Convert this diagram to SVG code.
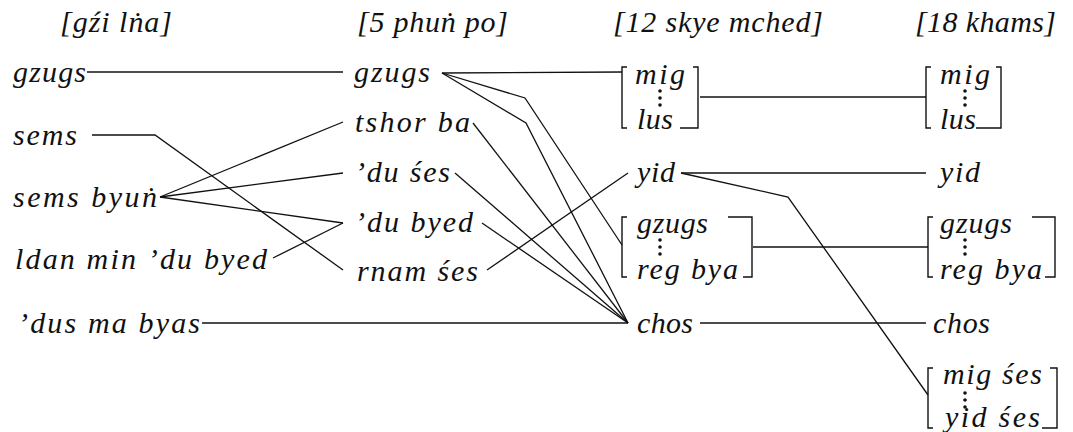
<svg xmlns="http://www.w3.org/2000/svg" width="1073" height="432" viewBox="0 0 1073 432">
  <style>
    text { font-family: "Liberation Serif", "DejaVu Serif", serif; font-style: italic; font-size: 30px; fill: #111; }
    .ln { fill: none; stroke: #111; stroke-width: 1.3; stroke-linejoin: miter; }
    .br { fill: none; stroke: #111; stroke-width: 1.4; }
    .dot { fill: #111; }
  </style>
  <defs>
    <!-- vertical ellipsis used inside the bracketed ranges -->
    <g id="vdots">
      <circle class="dot" cx="0" cy="0" r="1.8"/>
      <circle class="dot" cx="0" cy="7" r="1.8"/>
      <circle class="dot" cx="0" cy="14" r="1.8"/>
    </g>
  </defs>

  <!-- column headings -->
  <g id="headings">
    <text x="60" y="32" textLength="112" lengthAdjust="spacing">[gźi lṅa]</text>
    <text x="357" y="32" textLength="151" lengthAdjust="spacing">[5 phuṅ po]</text>
    <text x="613" y="32" textLength="210" lengthAdjust="spacing">[12 skye mched]</text>
    <text x="915" y="32" textLength="141" lengthAdjust="spacing">[18 khams]</text>
  </g>

  <!-- connectors -->
  <g id="connectors">
    <polyline class="ln" points="87,72 343,72"/>
    <polyline class="ln" points="92,135 155,135 343,270"/>
    <polyline class="ln" points="160,197 343,122"/>
    <polyline class="ln" points="160,197 343,173"/>
    <polyline class="ln" points="160,197 343,223"/>
    <polyline class="ln" points="273,258 343,223"/>
    <polyline class="ln" points="202,323 628,323"/>
    <polyline class="ln" points="442,73 622,72"/>
    <polyline class="ln" points="442,73 525,98 622,245"/>
    <polyline class="ln" points="442,73 526,123 628,323"/>
    <polyline class="ln" points="473,123 628,323"/>
    <polyline class="ln" points="455,173 628,323"/>
    <polyline class="ln" points="482,223 628,323"/>
    <polyline class="ln" points="487,270 628,173"/>
    <polyline class="ln" points="700,97 926,97"/>
    <polyline class="ln" points="681,173 926,173"/>
    <polyline class="ln" points="681,173 788,197 928,395"/>
    <polyline class="ln" points="753,247 928,247"/>
    <polyline class="ln" points="700,323 926,323"/>
  </g>

  <!-- gzi lnga column -->
  <g id="g-gzugs"><text x="13" y="82" textLength="73" lengthAdjust="spacing">gzugs</text></g>
  <g id="g-sems"><text x="13" y="145" textLength="64" lengthAdjust="spacing">sems</text></g>
  <g id="g-sems-byun"><text x="13" y="207" textLength="144" lengthAdjust="spacing">sems byuṅ</text></g>
  <g id="g-ldan-min"><text x="15" y="269" textLength="252" lengthAdjust="spacing">ldan min ’du byed</text></g>
  <g id="g-dus-ma-byas"><text x="18" y="333" textLength="182" lengthAdjust="spacing">’dus ma byas</text></g>

  <!-- 5 phung po column -->
  <g id="p-gzugs"><text x="354" y="82" textLength="76" lengthAdjust="spacing">gzugs</text></g>
  <g id="p-tshor-ba"><text x="355" y="132" textLength="115" lengthAdjust="spacing">tshor ba</text></g>
  <g id="p-du-ses"><text x="355" y="182" textLength="95" lengthAdjust="spacing">’du śes</text></g>
  <g id="p-du-byed"><text x="355" y="232" textLength="118" lengthAdjust="spacing">’du byed</text></g>
  <g id="p-rnam-ses"><text x="357" y="281" textLength="121" lengthAdjust="spacing">rnam śes</text></g>

  <!-- 12 skye mched column -->
  <g id="s-mig-lus">
    <path class="br" d="M627,67 H622 V128 H627"/>
    <path class="br" d="M693,67 H698 V128 H680"/>
    <text x="635" y="84" textLength="50" lengthAdjust="spacing">mig</text>
    <use href="#vdots" x="660" y="91"/>
    <text x="637" y="129" textLength="36" lengthAdjust="spacing">lus</text>
  </g>
  <g id="s-yid"><text x="637" y="182" textLength="38" lengthAdjust="spacing">yid</text></g>
  <g id="s-gzugs-reg-bya">
    <path class="br" d="M627,217 H622 V277 H627"/>
    <path class="br" d="M728,217 H752 V277 H743"/>
    <text x="637" y="233" textLength="71" lengthAdjust="spacing">gzugs</text>
    <use href="#vdots" x="660" y="240"/>
    <text x="637" y="279" textLength="101" lengthAdjust="spacing">reg bya</text>
  </g>
  <g id="s-chos"><text x="637" y="333" textLength="56" lengthAdjust="spacing">chos</text></g>

  <!-- 18 khams column -->
  <g id="k-mig-lus">
    <path class="br" d="M931,67 H926 V128 H931"/>
    <path class="br" d="M996,67 H1001 V128 H976"/>
    <text x="940" y="84" textLength="50" lengthAdjust="spacing">mig</text>
    <use href="#vdots" x="965" y="91"/>
    <text x="940" y="129" textLength="36" lengthAdjust="spacing">lus</text>
  </g>
  <g id="k-yid"><text x="940" y="182" textLength="40" lengthAdjust="spacing">yid</text></g>
  <g id="k-gzugs-reg-bya">
    <path class="br" d="M933,217 H928 V277 H933"/>
    <path class="br" d="M1032,217 H1055 V277 H1045"/>
    <text x="940" y="233" textLength="72" lengthAdjust="spacing">gzugs</text>
    <use href="#vdots" x="965" y="240"/>
    <text x="940" y="279" textLength="102" lengthAdjust="spacing">reg bya</text>
  </g>
  <g id="k-chos"><text x="933" y="333" textLength="57" lengthAdjust="spacing">chos</text></g>
  <g id="k-mig-ses-yid-ses">
    <path class="br" d="M933,368 H928 V428 H933"/>
    <path class="br" d="M1050,368 H1057 V428 H1042"/>
    <text x="943" y="384" textLength="99" lengthAdjust="spacing">mig śes</text>
    <use href="#vdots" x="965" y="393"/>
    <text x="945" y="427" textLength="95" lengthAdjust="spacing">yid śes</text>
  </g>
</svg>
